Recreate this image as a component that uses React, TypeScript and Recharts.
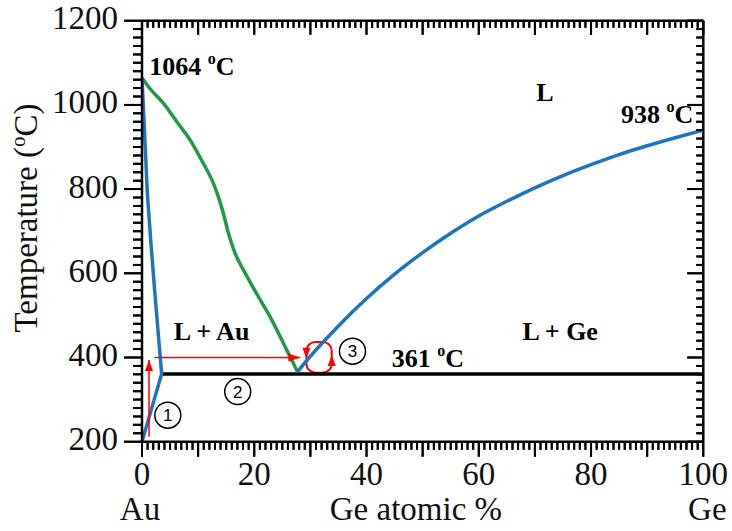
import React from 'react'
import {
  ComposedChart,
  Line,
  XAxis,
  YAxis,
  ReferenceLine,
  ReferenceDot,
  ReferenceArea,
} from 'recharts'

// plot frame (px) – chart is 732 x 531
const LEFT = 142
const RIGHT = 703.3
const TOP = 20.7
const BOTTOM = 441.7

const SERIF = '"Liberation Serif", "Times New Roman", serif'
const SANS = '"Liberation Sans", Arial, sans-serif'
const BLUE = '#1f74c0'
const GREEN = '#1f9a48'
const RED = '#ff0000'

// axis ticks
const xTickLabels = [0, 20, 40, 60, 80, 100]
const yTickLabels = [200, 400, 600, 800, 1000, 1200]
const xMinorTicks = Array.from({ length: 101 }, (_, i) => i)
const yMinorTicks = Array.from({ length: 51 }, (_, i) => 200 + i * 20)

// Au-rich solidus / solvus (blue, left)
const auSolidus = [
  { x: 0, t: 1064 },
  { x: 0.4, t: 950 },
  { x: 0.95, t: 790 },
  { x: 1.6, t: 670 },
  { x: 2.3, t: 552 },
  { x: 3.0, t: 440 },
  { x: 3.5, t: 361 },
  { x: 0, t: 200 },
]

// Au-side liquidus (green)
const auLiquidus = [
  { x: 0, t: 1064 },
  { x: 1.4, t: 1039 },
  { x: 3.8, t: 1004 },
  { x: 6.2, t: 960 },
  { x: 8.55, t: 917 },
  { x: 10.6, t: 869 },
  { x: 12.7, t: 814 },
  { x: 13.6, t: 782 },
  { x: 14.5, t: 742 },
  { x: 15.4, t: 695 },
  { x: 16.6, t: 647 },
  { x: 18.4, t: 600 },
  { x: 20.4, t: 552 },
  { x: 22.8, t: 497 },
  { x: 25.2, t: 434 },
  { x: 27.7, t: 366 },
]

// Ge-side liquidus (blue, right)
const geLiquidus = [
  { x: 27.7, t: 366 },
  { x: 30, t: 403 },
  { x: 35, t: 475 },
  { x: 40, t: 540 },
  { x: 45, t: 598 },
  { x: 50, t: 649 },
  { x: 55, t: 695 },
  { x: 60, t: 736 },
  { x: 65, t: 771 },
  { x: 70, t: 803 },
  { x: 75, t: 832 },
  { x: 80, t: 858 },
  { x: 85, t: 882 },
  { x: 90, t: 903 },
  { x: 95, t: 922 },
  { x: 100, t: 940 },
]

// eutectic isotherm
const eutectic = [
  { x: 3.5, t: 361 },
  { x: 100, t: 361 },
]

// red annotation arrows
const arrowUp = [
  { x: 1.25, t: 212 },
  { x: 1.25, t: 394 },
]
const arrowRight = [
  { x: 2.2, t: 400 },
  { x: 28.2, t: 400 },
]
const loopBox = { x1: 29.3, x2: 33.8, t1: 364, t2: 437 }

const steps = [
  { n: '1', x: 4.6, t: 263 },
  { n: '2', x: 17.05, t: 319 },
  { n: '3', x: 37.5, t: 415 },
]

const phaseLabels = [
  { text: 'L', x: 71.8, t: 1010 },
  { text: 'L + Au', x: 12.4, t: 442 },
  { text: 'L + Ge', x: 74.5, t: 442 },
]

const tempLabels = [
  { value: '1064', x: 1.3, t: 1071, anchor: 'start' },
  { value: '938', x: 98.2, t: 957, anchor: 'end' },
  { value: '361', x: 44.5, t: 378, anchor: 'start' },
]

const TICK = { stroke: '#000', strokeWidth: 2 }

function XLabel({ x, y, payload }: any) {
  return (
    <text x={x} y={y + 43} textAnchor='middle' fontFamily={SERIF} fontSize={33} fill='#111'>
      {payload.value}
    </text>
  )
}

function YLabel({ x, y, payload }: any) {
  return (
    <text x={x - 24} y={y + 8.5} textAnchor='end' fontFamily={SERIF} fontSize={33} fill='#111'>
      {payload.value}
    </text>
  )
}

// tick marks: bottom/left point outward, top/right point inward
const bottomTick = (v: number) => (p: any) => {
  const len = v % 10 === 0 ? 15 : 8
  return <line x1={p.cx} x2={p.cx} y1={p.cy} y2={p.cy + len} {...TICK} />
}
const topTick = (v: number) => (p: any) => {
  const len = v % 10 === 0 ? 14 : 7
  return <line x1={p.cx} x2={p.cx} y1={p.cy} y2={p.cy + len} {...TICK} />
}
const leftTick = (v: number) => (p: any) => {
  const len = yTickLabels.includes(v) ? 18 : 9
  return <line x1={p.cx - len} x2={p.cx} y1={p.cy} y2={p.cy} {...TICK} />
}
const rightTick = (v: number) => (p: any) => {
  const len = yTickLabels.includes(v) ? 16 : 7
  return <line x1={p.cx - len} x2={p.cx} y1={p.cy} y2={p.cy} {...TICK} />
}

// same comb of ticks, drawn once over the whole frame
function FrameTicks({ x, y, width, height }: any) {
  let d = ''
  xMinorTicks.forEach((v) => {
    const px = x + (v / 100) * width
    const major = v % 10 === 0
    d += `M${px},${y + height}V${y + height + (major ? 15 : 8)}`
    d += `M${px},${y}V${y + (major ? 14 : 7)}`
  })
  yMinorTicks.forEach((v) => {
    const py = y + height - ((v - 200) / 1000) * height
    const major = yTickLabels.includes(v)
    d += `M${x - (major ? 18 : 9)},${py}H${x}`
    d += `M${x + width - (major ? 16 : 7)},${py}H${x + width}`
  })
  return <path d={d} fill='none' {...TICK} />
}

const arrowHead = (dir: 'up' | 'right', last: number) => (props: any) => {
  const { cx, cy, index } = props
  if (index !== last) return <g key={index} />
  const pts =
    dir === 'up'
      ? `${cx},${cy} ${cx - 4},${cy + 11} ${cx + 4},${cy + 11}`
      : `${cx},${cy} ${cx - 12},${cy - 4} ${cx - 12},${cy + 4}`
  return <polygon key={index} points={pts} fill={RED} />
}

function LoopShape({ x, y, width, height }: any) {
  const lx = x
  const rx = x + width
  const ay = y + height * 0.35
  const by = y + height * 0.62
  return (
    <g>
      <rect x={x} y={y} width={width} height={height} rx={9} ry={9} fill='none' stroke={RED} strokeWidth={2} />
      <polygon points={`${lx},${ay + 6} ${lx - 4},${ay - 5} ${lx + 4},${ay - 5}`} fill={RED} />
      <polygon points={`${rx},${by - 6} ${rx - 4},${by + 5} ${rx + 4},${by + 5}`} fill={RED} />
    </g>
  )
}

function XTitle() {
  const w = RIGHT - LEFT
  return (
    <g fontFamily={SERIF} fontSize={33} fill='#111'>
      <text x={LEFT - 2} y={BOTTOM + 78} textAnchor='middle'>Au</text>
      <text x={LEFT + 0.488 * w} y={BOTTOM + 78} textAnchor='middle'>Ge atomic %</text>
      <text x={RIGHT + 4} y={BOTTOM + 78} textAnchor='middle'>Ge</text>
    </g>
  )
}

function YTitle() {
  const cx = 37
  const cy = 218
  return (
    <text
      x={cx}
      y={cy}
      transform={`rotate(-90 ${cx} ${cy})`}
      textAnchor='middle'
      fontFamily={SERIF}
      fontSize={33}
      fill='#111'
    >
      Temperature (<tspan fontSize={21} dy={-12}>o</tspan>
      <tspan dy={12}>C)</tspan>
    </text>
  )
}

export default function App() {
  return (
    <div style={{ position: 'absolute', left: 0, top: 0 }}>
      <ComposedChart
        width={732}
        height={531}
        margin={{ top: TOP, right: 732 - RIGHT, left: LEFT - 60, bottom: 531 - BOTTOM - 30 }}
      >
        <XAxis
          dataKey='x'
          type='number'
          domain={[0, 100]}
          allowDataOverflow
          ticks={xTickLabels}
          interval={0}
          tickSize={0}
          tickMargin={0}
          tickLine={false}
          tick={<XLabel />}
          height={30}
          axisLine={{ stroke: '#000', strokeWidth: 2.5 }}
          label={() => <XTitle />}
        />
        <YAxis
          type='number'
          domain={[200, 1200]}
          allowDataOverflow
          ticks={yTickLabels}
          interval={0}
          tickSize={0}
          tickMargin={0}
          tickLine={false}
          tick={<YLabel />}
          width={60}
          axisLine={{ stroke: '#000', strokeWidth: 2.5 }}
          label={() => <YTitle />}
        />
        <ReferenceLine y={1200} stroke='#000' strokeWidth={2.5} />
        <ReferenceLine x={100} stroke='#000' strokeWidth={2.5} />
        <ReferenceArea x1={0} x2={100} y1={200} y2={1200} ifOverflow='visible' shape={(p: any) => <FrameTicks {...p} />} />

        <Line data={eutectic} dataKey='t' type='linear' stroke='#000' strokeWidth={3.5} dot={false} isAnimationActive={false} />
        <Line data={auLiquidus} dataKey='t' type='monotone' stroke={GREEN} strokeWidth={3.5} dot={false} isAnimationActive={false} />
        <Line data={auSolidus} dataKey='t' type='linear' stroke={BLUE} strokeWidth={3.5} dot={false} isAnimationActive={false} />
        <Line data={geLiquidus} dataKey='t' type='monotone' stroke={BLUE} strokeWidth={3.5} dot={false} isAnimationActive={false} />

        <Line data={arrowUp} dataKey='t' type='linear' stroke={RED} strokeWidth={1.5} dot={arrowHead('up', arrowUp.length - 1)} isAnimationActive={false} />
        <Line data={arrowRight} dataKey='t' type='linear' stroke={RED} strokeWidth={1.5} dot={arrowHead('right', arrowRight.length - 1)} isAnimationActive={false} />
        <ReferenceArea x1={loopBox.x1} x2={loopBox.x2} y1={loopBox.t1} y2={loopBox.t2} shape={(p: any) => <LoopShape {...p} />} />

        {steps.map((s) => (
          <ReferenceDot
            key={s.n}
            x={s.x}
            y={s.t}
            r={13}
            shape={(p: any) => (
              <g>
                <circle cx={p.cx} cy={p.cy} r={13} fill='#fff' stroke='#000' strokeWidth={1.5} />
                <text x={p.cx} y={p.cy + 6} textAnchor='middle' fontFamily={SANS} fontSize={17} fill='#000'>
                  {s.n}
                </text>
              </g>
            )}
          />
        ))}

        {phaseLabels.map((l) => (
          <ReferenceDot
            key={l.text}
            x={l.x}
            y={l.t}
            r={1}
            shape={(p: any) => (
              <text x={p.cx} y={p.cy} textAnchor='middle' fontFamily={SERIF} fontWeight='bold' fontSize={26} fill='#000'>
                {l.text}
              </text>
            )}
          />
        ))}

        {tempLabels.map((l) => (
          <ReferenceDot
            key={l.value}
            x={l.x}
            y={l.t}
            r={1}
            shape={(p: any) => (
              <text x={p.cx} y={p.cy} textAnchor={l.anchor} fontFamily={SERIF} fontWeight='bold' fontSize={26} fill='#000'>
                {l.value}{' '}
                <tspan fontSize={16} dy={-11}>o</tspan>
                <tspan dy={11}>C</tspan>
              </text>
            )}
          />
        ))}

        {xMinorTicks.map((v) => (
          <ReferenceDot key={`b${v}`} x={v} y={200} r={1} ifOverflow='visible' shape={bottomTick(v)} />
        ))}
        {xMinorTicks.map((v) => (
          <ReferenceDot key={`t${v}`} x={v} y={1200} r={1} ifOverflow='visible' shape={topTick(v)} />
        ))}
        {yMinorTicks.map((v) => (
          <ReferenceDot key={`l${v}`} x={0} y={v} r={1} ifOverflow='visible' shape={leftTick(v)} />
        ))}
        {yMinorTicks.map((v) => (
          <ReferenceDot key={`r${v}`} x={100} y={v} r={1} ifOverflow='visible' shape={rightTick(v)} />
        ))}
      </ComposedChart>
    </div>
  )
}
